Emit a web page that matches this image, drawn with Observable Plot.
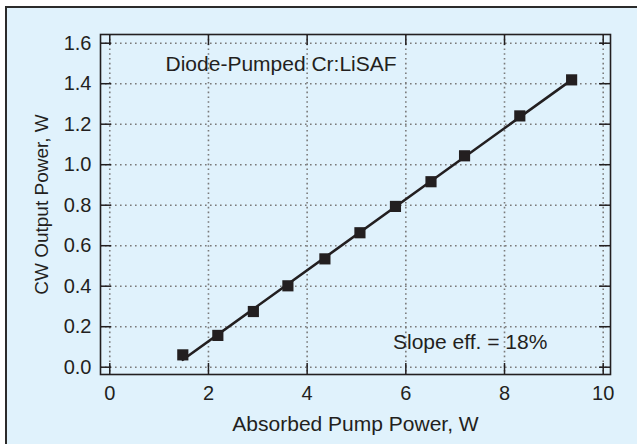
<!DOCTYPE html>
<html>
<head>
<meta charset="utf-8">
<script src="https://cdn.jsdelivr.net/npm/d3@7"></script>
<script src="https://cdn.jsdelivr.net/npm/@observablehq/plot@0.6"></script>
<style>
  html, body { margin: 0; padding: 0; background: #ffffff; }
  #wrap { position: relative; width: 637px; height: 444px; overflow: hidden; }
  #panel { position: absolute; left: 5px; top: 6px; right: 0; bottom: 0;
           background: #e0f2fc; border-left: 2.5px solid #2b2b2b; border-top: 2.5px solid #2b2b2b; }
  #chart { position: absolute; left: 0; top: 0; }
</style>
</head>
<body>
<div id="wrap"><div id="panel"></div><div id="chart"></div></div>
<script>
// Data
const absorbedPump = [1.48, 2.19, 2.91, 3.61, 4.36, 5.07, 5.79, 6.51, 7.19, 8.31, 9.36];
const cwOutput     = [0.061, 0.157, 0.275, 0.402, 0.535, 0.664, 0.794, 0.916, 1.044, 1.241, 1.419];
const xTicks = [0, 2, 4, 6, 8, 10];
const yTicks = [0.0, 0.2, 0.4, 0.6, 0.8, 1.0, 1.2, 1.4, 1.6];
const xTitle = "Absorbed Pump Power, W";
const yTitle = "CW Output Power, W";
const insetLabel = "Diode-Pumped Cr:LiSAF";
const slopeLabel = "Slope eff. = 18%";

const data = absorbedPump.map((x, i) => ({x, y: cwOutput[i]}));

const W = 637, H = 444;
const mL = 100, mR = 27, mT = 34, mB = 70;
const innerW = W - mL - mR, innerH = H - mT - mB;
const ink = "#231f20";
const font = "'Liberation Sans', Arial, Helvetica, sans-serif";

const plot = Plot.plot({
  width: W,
  height: H,
  marginLeft: mL, marginRight: mR, marginTop: mT, marginBottom: mB,
  style: {background: "transparent", color: ink, fontFamily: font, fontSize: "20px"},
  x: {domain: [-0.188, 10.148]},
  y: {domain: [-0.036, 1.643]},
  marks: [
    Plot.gridX(xTicks, {stroke: "#7a7a7a", strokeOpacity: 1, strokeWidth: 1.6, strokeDasharray: "1.6,3.2"}),
    Plot.gridY(yTicks, {stroke: "#7a7a7a", strokeOpacity: 1, strokeWidth: 1.6, strokeDasharray: "1.6,3.4"}),
    // inward tick marks on all four sides
    Plot.tickX(xTicks, {x: d => d, stroke: ink, strokeWidth: 1.5, insetTop: innerH - 11}),
    Plot.tickX(xTicks, {x: d => d, stroke: ink, strokeWidth: 1.5, insetBottom: innerH - 11}),
    Plot.tickY(yTicks, {y: d => d, stroke: ink, strokeWidth: 1.5, insetRight: innerW - 11}),
    Plot.tickY(yTicks, {y: d => d, stroke: ink, strokeWidth: 1.5, insetLeft: innerW - 11}),
    Plot.frame({stroke: ink, strokeWidth: 1.6}),
    Plot.axisX(xTicks, {anchor: "bottom", tickSize: 0, tickPadding: 11, fontSize: 20, label: null, tickFormat: d3.format("d")}),
    Plot.axisY(yTicks, {anchor: "left", tickSize: 0, tickPadding: 9, fontSize: 20, label: null, tickFormat: d3.format(".1f")}),
    Plot.linearRegressionY(data, {x: "x", y: "y", ci: 0, stroke: ink, strokeWidth: 2.6}),
    Plot.dot(data, {x: "x", y: "y", symbol: "square", r: 6.3, fill: ink, stroke: "none"}),
    Plot.text([insetLabel], {x: 1.13, y: 1.465, text: d => d, textAnchor: "start", lineAnchor: "bottom", fontSize: 21, fill: ink}),
    Plot.text([slopeLabel], {x: 5.74, y: 0.091, text: d => d, textAnchor: "start", lineAnchor: "bottom", fontSize: 21, fill: ink}),
    Plot.text([xTitle], {frameAnchor: "bottom", dy: 56, textAnchor: "middle", lineAnchor: "bottom", text: d => d, fontSize: 21, fill: ink}),
    Plot.text([yTitle], {frameAnchor: "left", dx: -53, rotate: -90, textAnchor: "middle", lineAnchor: "bottom", text: d => d, fontSize: 19, fill: ink})
  ]
});
document.getElementById("chart").appendChild(plot);
</script>
</body>
</html>
